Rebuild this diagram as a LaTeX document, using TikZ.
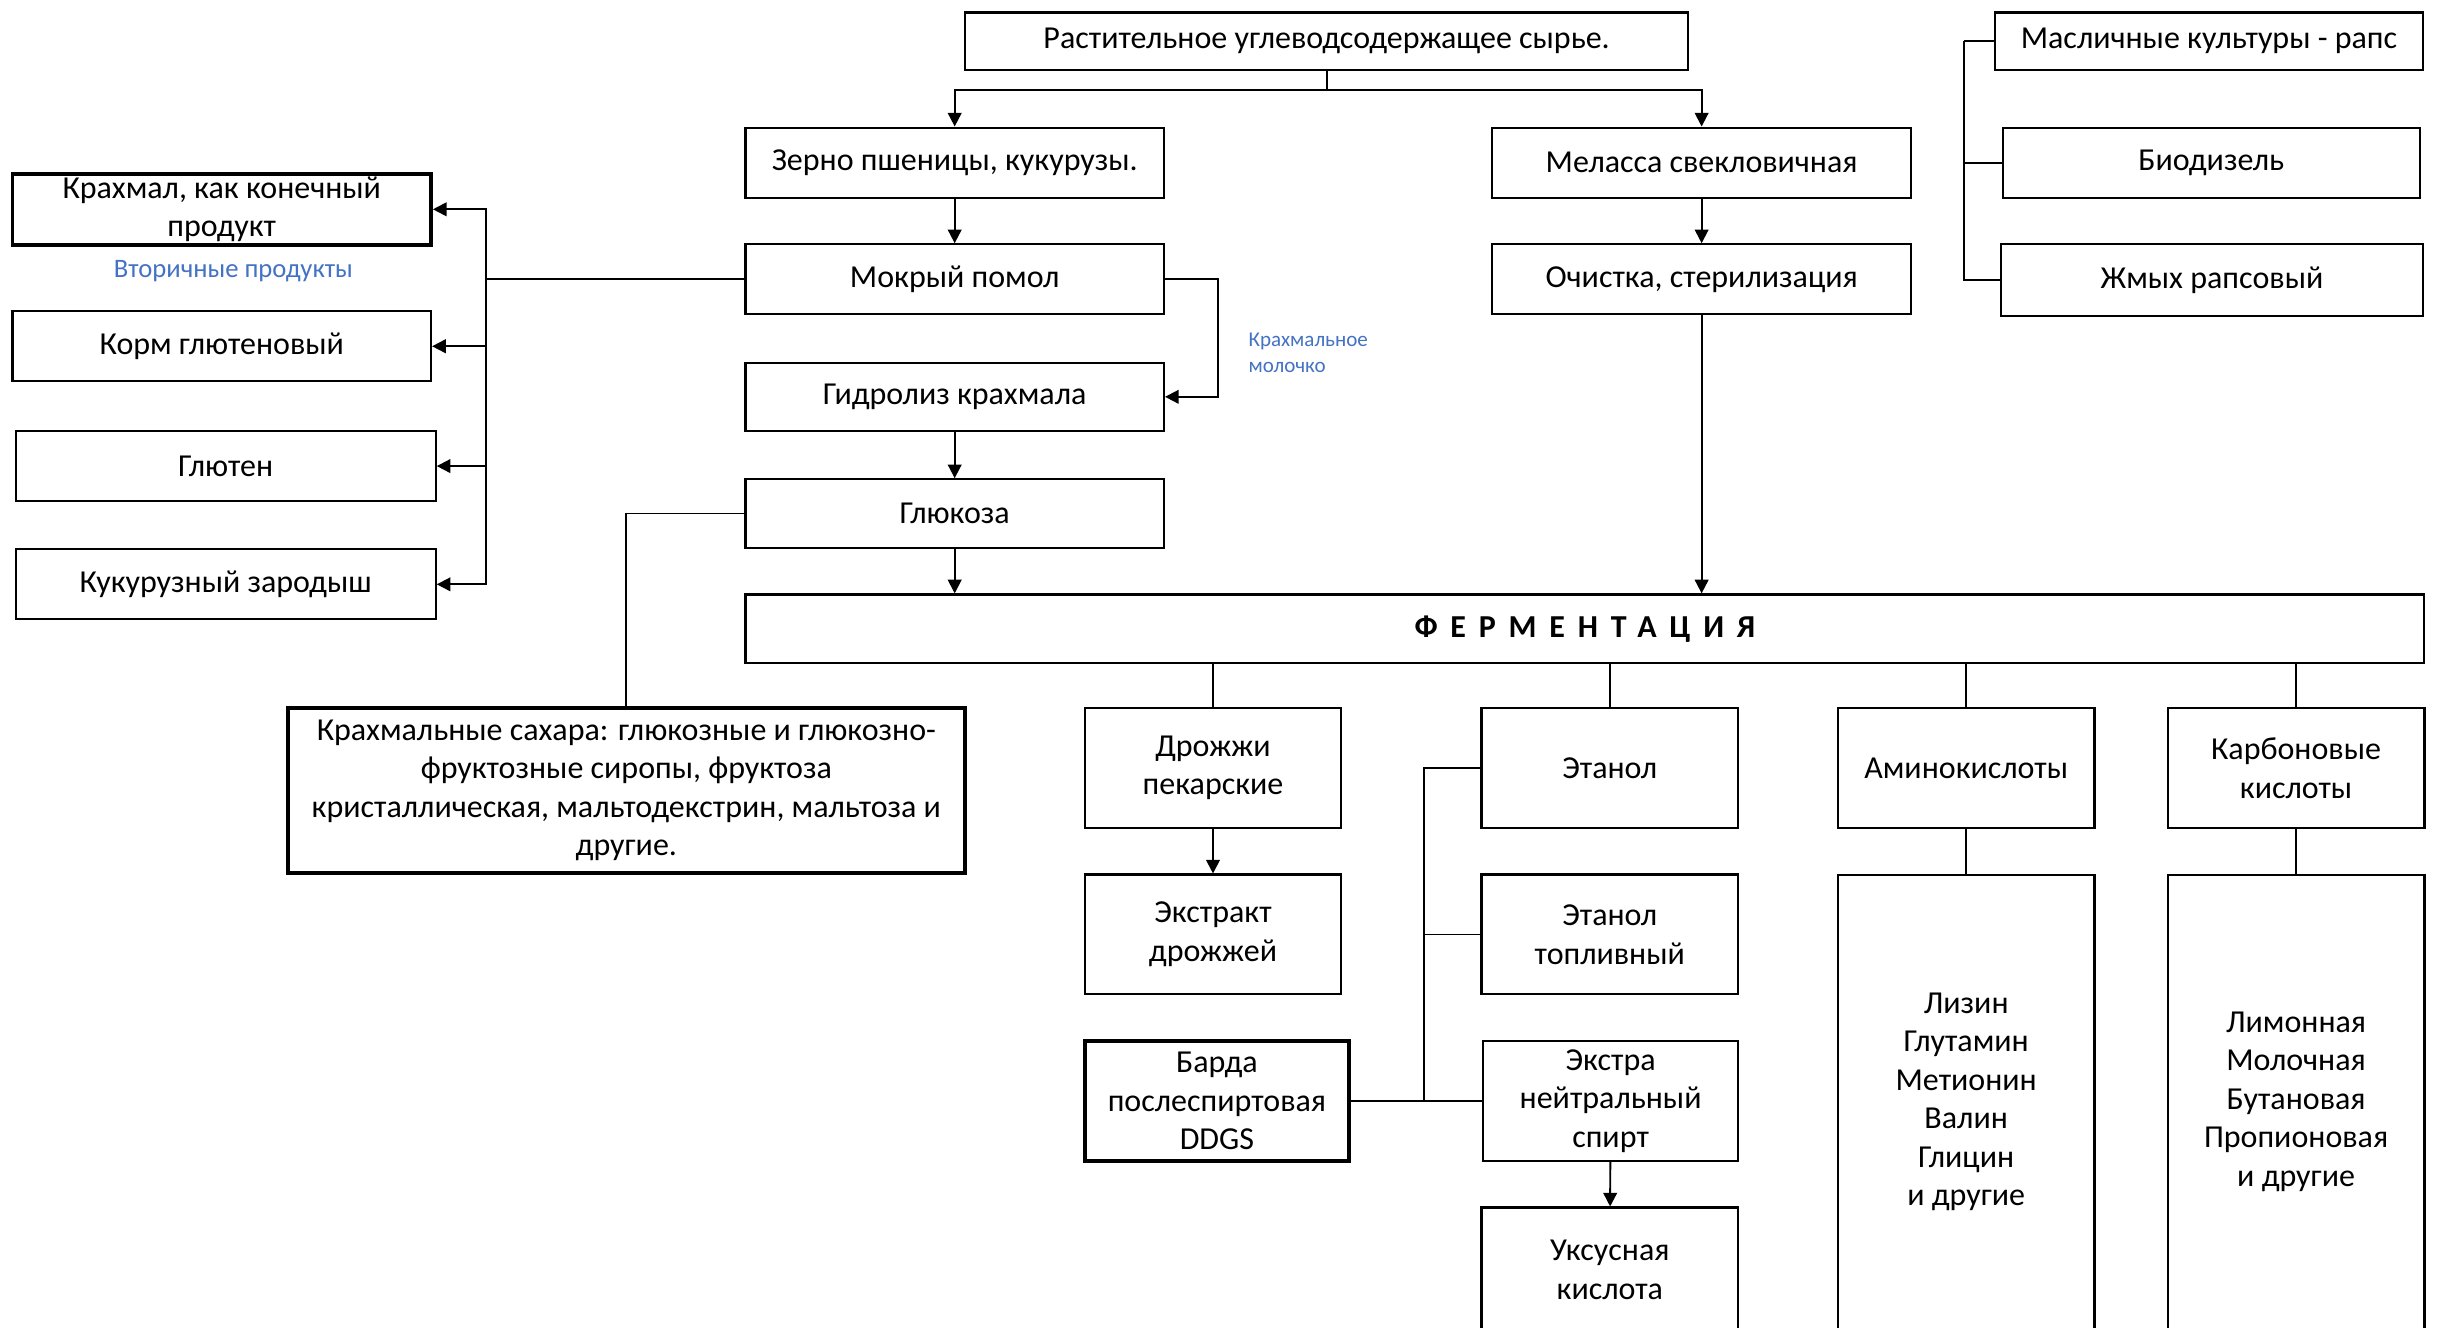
\documentclass[tikz,border=0pt]{standalone}
\usepackage{fontspec}
\setmainfont{Carlito}
\usetikzlibrary{arrows.meta,positioning}
\definecolor{noteblue}{HTML}{4472C4}

\begin{document}
\begin{tikzpicture}[x=0.02cm, y=-0.02cm,
  font=\fontsize{11.7}{14.1}\selectfont,
  box/.style={rectangle, draw, line width=0.8pt, align=center, inner sep=1pt, minimum width=5.38cm, minimum height=0.9cm},
  tall/.style={box, minimum width=3.3cm, minimum height=1.54cm},
  heavy/.style={line width=1.4pt},
  arrow/.style={-{Triangle[length=5pt,width=5pt]}, line width=0.7pt},
  link/.style={line width=0.7pt},
  note/.style={text=noteblue, inner sep=0pt}
]
  \clip (0,0) rectangle (1568,853);

  % raw material
  \node[box, minimum width=9.3cm, minimum height=0.74cm] (raw) at (852.5,26.5) {Растительное углеводсодержащее сырье.};
  \node[box] (grain) at (613.5,104.5) {Зерно пшеницы, кукурузы.};
  \node[box] (molasses) at (1093.5,104.5) {Меласса свекловичная};
  \node[box] (wetmill) at (613.5,179.5) {Мокрый помол};
  \node[box] (clean) at (1093.5,179.5) {Очистка, стерилизация};
  \node[box, minimum height=0.88cm] (hydro) at (613.5,255) {Гидролиз крахмала};
  \node[box, minimum height=0.88cm] (glucose) at (613.5,330) {Глюкоза};
  \node[box, minimum width=21.58cm, minimum height=0.88cm] (ferm) at (1018.5,404)
    {\bfseries\addfontfeature{LetterSpace=40}ФЕРМЕНТАЦИЯ};

  % secondary products of wet milling
  \node[box, heavy] (starch) at (142.5,134.5) {Крахмал, как конечный\\продукт};
  \node[note, font=\fontsize{9.75}{11}\selectfont] (secnote) at (150,174.5) {Вторичные продукты};
  \node[box] (feed) at (142.5,222.5) {Корм глютеновый};
  \node[box, minimum width=5.4cm] (gluten) at (145,299.5) {Глютен};
  \node[box, minimum width=5.4cm] (germ) at (145,375.5) {Кукурузный зародыш};
  \node[box, heavy, minimum width=8.7cm, minimum height=2.12cm] (sugars) at (402.5,508)
    {Крахмальные сахара: глюкозные и глюкозно-\\фруктозные сиропы, фруктоза\\кристаллическая, мальтодекстрин, мальтоза и\\другие.};
  \node[note, anchor=west, align=left, font=\fontsize{7.7}{9.6}\selectfont] (milknote) at (802,226.5) {Крахмальное\\молочко};

  % oil crops
  \node[box, minimum width=5.5cm, minimum height=0.74cm] (oil) at (1419.5,26.5) {Масличные культуры - рапс};
  \node[box, minimum width=5.36cm] (biodiesel) at (1421,104.5) {Биодизель};
  \node[box, minimum width=5.42cm, minimum height=0.92cm] (cake) at (1421.5,180) {Жмых рапсовый};

  % fermentation products
  \node[tall] (yeast) at (779.5,493.5) {Дрожжи\\пекарские};
  \node[tall] (ethanol) at (1034.5,493.5) {Этанол};
  \node[tall] (amino) at (1263.5,493.5) {Аминокислоты};
  \node[tall] (carbox) at (1475.5,493.5) {Карбоновые\\кислоты};
  \node[tall] (extract) at (779.5,600.5) {Экстракт\\дрожжей};
  \node[tall] (fuel) at (1034.5,600.5) {Этанол\\топливный};
  \node[tall, heavy, minimum width=3.4cm] (barda) at (782,707.5) {Барда\\послеспиртовая\\DDGS};
  \node[tall, minimum width=3.28cm] (neutral) at (1035,707.5) {Экстра\\нейтральный\\спирт};
  \node[tall, minimum height=1.6cm] (acetic) at (1034.5,816) {Уксусная\\кислота};
  \node[tall, minimum height=5.84cm] (aminolist) at (1263.5,708)
    {Лизин\\Глутамин\\Метионин\\Валин\\Глицин\\и другие};
  \node[tall, minimum height=5.84cm] (acidlist) at (1475.5,708)
    {Лимонная\\Молочная\\Бутановая\\Пропионовая\\и другие};

  % connectors
  \draw[link] (raw.south) -- ++(0,12) coordinate (rawsplit);
  \draw[arrow] (rawsplit) -| (grain.north);
  \draw[arrow] (rawsplit) -| (molasses.north);
  \draw[arrow] (grain) -- (wetmill);
  \draw[arrow] (molasses) -- (clean);
  \draw[arrow] (hydro) -- (glucose);
  \draw[arrow] (glucose.south) -- (glucose.south |- ferm.north);
  \draw[arrow] (clean.south) -- (clean.south |- ferm.north);

  \draw[link] (wetmill.west) -- ++(-166,0) coordinate (lbus);
  \foreach \n in {starch,feed,gluten,germ}
    \draw[arrow] (lbus) |- (\n.east);
  \draw[arrow] (wetmill.east) -- ++(34,0) |- (hydro.east);
  \draw[link] (glucose.west) -| (sugars.north);

  \draw[link] (oil.west) -- ++(-19,0) coordinate (rbus);
  \foreach \n in {biodiesel,cake}
    \draw[link] (rbus) |- (\n.west);

  \foreach \n in {yeast,ethanol,amino,carbox}
    \draw[link] (\n.north |- ferm.south) -- (\n.north);
  \draw[arrow] (yeast) -- (extract);
  \draw[link] (ethanol.west) -- ++(-36,0) coordinate (ebus) -- (ebus |- barda.east);
  \draw[link] (fuel.west) -- (fuel.west -| ebus);
  \draw[link] (barda.east) -- (neutral.west);
  \draw[arrow] (neutral) -- (acetic);
  \draw[link] (amino) -- (aminolist);
  \draw[link] (carbox) -- (acidlist);
\end{tikzpicture}
\end{document}
